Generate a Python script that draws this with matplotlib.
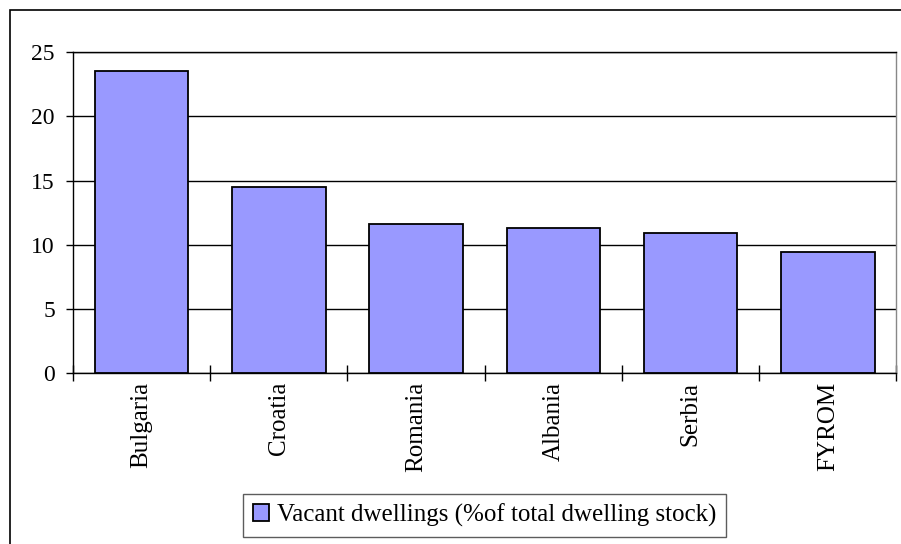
import numpy as np
import matplotlib
matplotlib.use("Agg")
import matplotlib.pyplot as plt
from matplotlib.patches import Rectangle

countries = ["Bulgaria", "Croatia", "Romania", "Albania", "Serbia", "FYROM"]
vacant = [23.5, 14.5, 11.6, 11.3, 10.9, 9.45]
series_label = "Vacant dwellings (%of total dwelling stock)"

plt.rcParams["font.family"] = ["Liberation Serif", "DejaVu Serif"]

fig = plt.figure(figsize=(9.01, 5.44), dpi=100)
ax = fig.add_axes([0.081, 0.314, 0.914, 0.590])

x = np.arange(len(countries))
ax.bar(x, vacant, width=0.68, color="#9999FF", edgecolor="black",
       linewidth=1.3, label=series_label, zorder=3)

ax.set_xlim(-0.5, len(countries) - 0.5)
ax.set_ylim(0, 25)
ax.set_yticks(np.arange(0, 26, 5))
ax.tick_params(axis="y", labelsize=17, length=5, width=1, direction="out", pad=8)

# category labels in the middle, tick marks on the boundaries
ax.set_xticks(x)
ax.set_xticklabels(countries, rotation=90, fontsize=18)
ax.tick_params(axis="x", which="major", length=0, pad=6)
ax.set_xticks(np.arange(-0.5, len(countries), 1.0), minor=True)
ax.tick_params(axis="x", which="minor", length=12, width=1, direction="inout")

ax.yaxis.grid(True, color="black", linewidth=1)
ax.set_axisbelow(True)
for s in ax.spines.values():
    s.set_linewidth(1)
    s.set_color("black")
ax.spines["right"].set_color("#888888")

leg = ax.legend(loc="upper center", bbox_to_anchor=(0.5, -0.375), ncol=1,
                fontsize=18, frameon=True, fancybox=False, edgecolor="#333333",
                handlelength=0.65, handleheight=0.65, handletextpad=0.3,
                borderpad=0.4, borderaxespad=0)
leg.get_frame().set_linewidth(1)

fig.patches.append(Rectangle((10 / 901, -0.01), 1.0, 1 - 10 / 544 + 0.01,
                             transform=fig.transFigure, fill=False,
                             edgecolor="black", linewidth=1.2))

fig.savefig("out.png", dpi=100)
